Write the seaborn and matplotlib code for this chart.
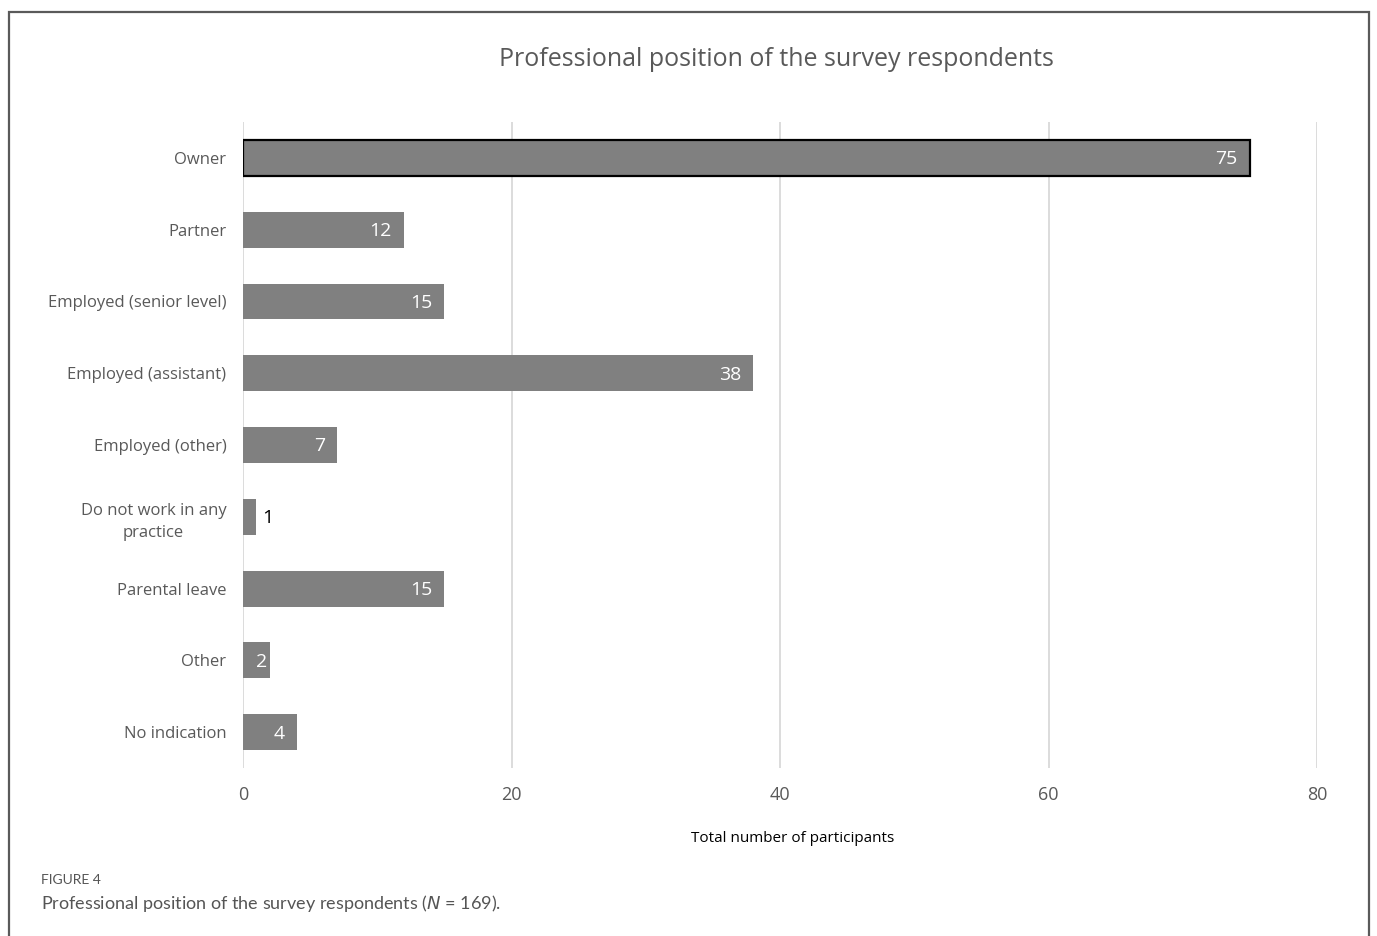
import matplotlib
matplotlib.use("Agg")
import matplotlib.pyplot as plt
from matplotlib.patches import Rectangle
import seaborn as sns
import pandas as pd

categories = [
    "Owner",
    "Partner",
    "Employed (senior level)",
    "Employed (assistant)",
    "Employed (other)",
    "Do not work in any\npractice",
    "Parental leave",
    "Other",
    "No indication",
]
counts = [75, 12, 15, 38, 7, 1, 15, 2, 4]
x_ticks = [0, 20, 40, 60, 80]

df = pd.DataFrame({"position": categories, "count": counts})

sns.set_theme(style="white")
plt.rcParams["font.family"] = ["Open Sans", "DejaVu Sans"]

W, H = 1377, 936
fig = plt.figure(figsize=(W / 100, H / 100), dpi=100)
ax = fig.add_axes([243 / W, 1 - 768 / H, (1317 - 243) / W, (768 - 122) / H])

sns.barplot(data=df, y="position", x="count", orient="h", color="#808080",
            saturation=1, width=0.5, ax=ax, zorder=3)

# outline the largest bar
for i, p in enumerate(ax.patches):
    p.set_edgecolor("black" if i == 0 else "none")
    p.set_linewidth(1.6 if i == 0 else 0)

for i, v in enumerate(counts):
    if v >= 2:
        ax.text(max(v - 0.9, 1.8), i + 0.02, str(v), ha="right", va="center",
                color="white", fontsize=14, zorder=4)
    else:
        ax.text(v + 0.45, i + 0.02, str(v), ha="left", va="center",
                color="black", fontsize=14, zorder=4)

ax.set_xlim(0, 80)
ax.set_ylim(len(categories) - 0.5, -0.5)
ax.set_xticks(x_ticks)
ax.xaxis.grid(True, color="#d9d9d9", linewidth=1.3, zorder=0)
ax.yaxis.grid(False)
for s in ax.spines.values():
    s.set_visible(False)
ax.tick_params(axis="x", length=0, pad=13, labelsize=13, labelcolor="#595959")
ax.tick_params(axis="y", length=0, pad=12, labelsize=12, labelcolor="#595959")
ax.set_ylabel("")
ax.set_xlabel("")
for lbl in ax.get_yticklabels():
    lbl.set_multialignment("center")
    lbl.set_linespacing(1.55)

fig.text(793 / W, 1 - 838 / H, "Total number of participants", ha="center",
         va="center", fontsize=11, color="black")
fig.text(776 / W, 1 - 59 / H, "Professional position of the survey respondents",
         ha="center", va="center", fontsize=18, color="#595959")

fig.text(41 / W, 1 - 880 / H, "FIGURE 4", ha="left", va="center",
         fontsize=10, color="#555555", family=["Lato", "DejaVu Sans"])
fig.text(41 / W, 1 - 903 / H,
         "Professional position of the survey respondents ($\\it{N}$ = 169).",
         ha="left", va="center", fontsize=13, color="#555555",
         family=["Lato", "DejaVu Sans"])

frame = Rectangle((9 / W, -0.05), (1369 - 9) / W, 1.05 - 12 / H,
                  transform=fig.transFigure, fill=False, edgecolor="#5a5a5a",
                  linewidth=1.6, clip_on=False)
fig.add_artist(frame)

fig.savefig("out.png", dpi=100, facecolor="white")
